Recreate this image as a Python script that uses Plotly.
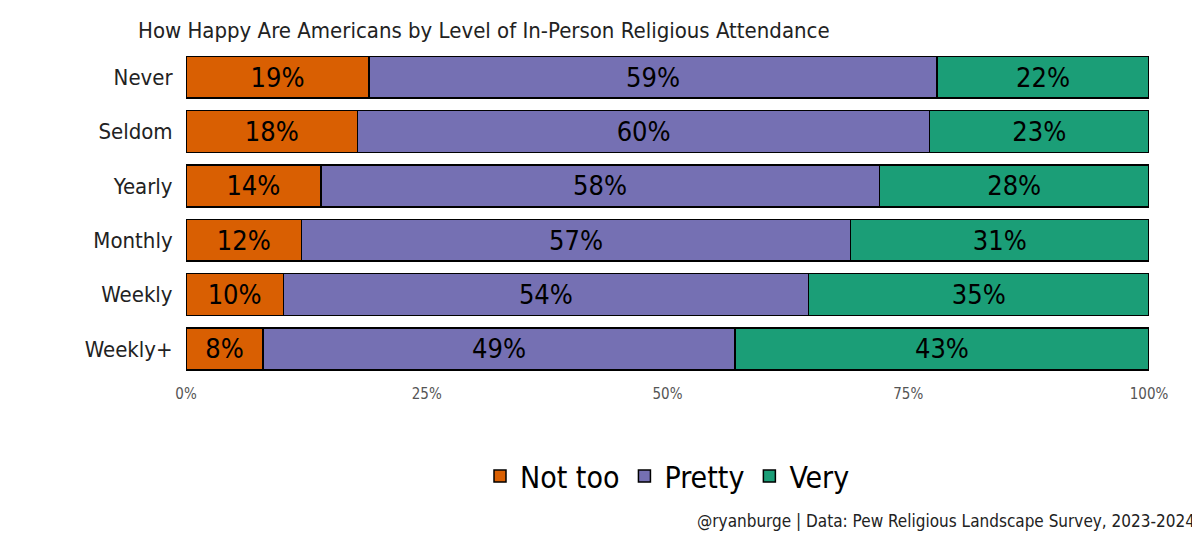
import plotly.graph_objects as go

categories = ["Never", "Seldom", "Yearly", "Monthly", "Weekly", "Weekly+"]
not_too = [19, 18, 14, 12, 10, 8]
pretty = [59, 60, 58, 57, 54, 49]
very = [22, 23, 28, 31, 35, 43]
series = [("Not too", not_too, "#D95F02"), ("Pretty", pretty, "#7570B3"), ("Very", very, "#1B9E77")]
tick_vals = [0, 25, 50, 75, 100]
tick_text = ["0%", "25%", "50%", "75%", "100%"]

FONT = "DejaVu Sans Condensed, Liberation Sans, sans-serif"
fig = go.Figure()
for name, vals, col in series:
    fig.add_trace(go.Bar(
        y=categories, x=vals, name=name, orientation="h",
        marker=dict(color=col, line=dict(color="black", width=1.5)),
        text=[f"{v}%" for v in vals], textposition="inside", insidetextanchor="middle",
        textfont=dict(size=27, color="black", family=FONT), width=0.77,
    ))
fig.update_layout(
    barmode="stack", barnorm="percent",
    width=1200, height=533, plot_bgcolor="white", paper_bgcolor="white",
    margin=dict(l=178, r=59, t=42, b=165, autoexpand=False),
    font=dict(family=FONT, color="black"),
    title=dict(text="How Happy Are Americans by Level of In-Person Religious Attendance",
               x=130/1200, xanchor="left", y=1 - 22/533, yanchor="middle",
               font=dict(size=22, family=FONT, color="#222")),
    xaxis=dict(range=[0, 100], tickvals=tick_vals, ticktext=tick_text, showgrid=False,
               zeroline=False, tickfont=dict(size=15, color="#555"),
               ticks="outside", ticklen=4, tickcolor="white"),
    yaxis=dict(autorange="reversed", tickfont=dict(size=22, color="#222"),
               ticks="outside", ticklen=8, tickcolor="white"),
    legend=dict(orientation="h", x=0.5, xanchor="center", y=-0.307, yanchor="middle",
                font=dict(size=30, family=FONT), traceorder="normal"),
    uniformtext=dict(mode="show", minsize=10),
)
fig.add_annotation(text="@ryanburge | Data: Pew Religious Landscape Survey, 2023-2024",
                   xref="paper", yref="paper", x=1.05, y=-0.445, xanchor="right", yanchor="middle",
                   showarrow=False, font=dict(size=17, family=FONT, color="#222"))
fig.write_html("out.html")
